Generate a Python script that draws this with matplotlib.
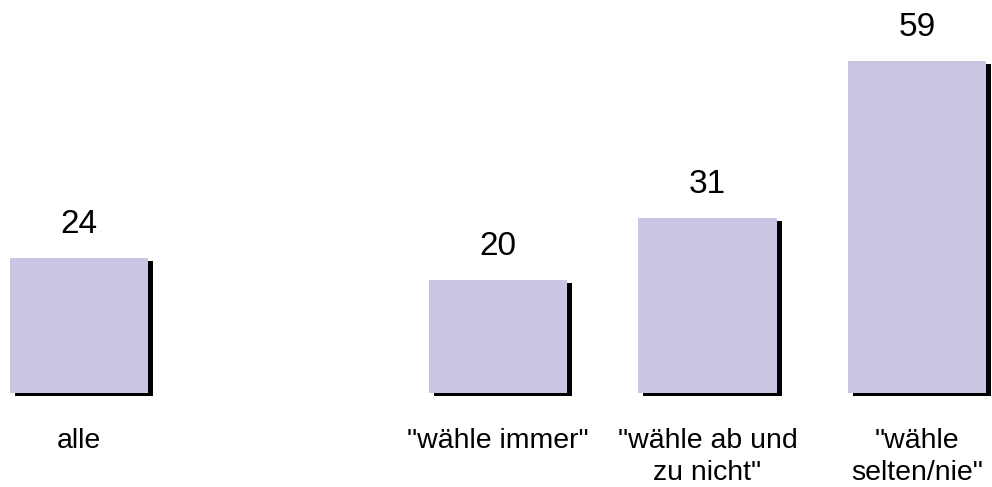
import matplotlib.pyplot as plt
import matplotlib.patheffects as pe

categories = ['alle', '"wähle immer"', '"wähle ab und\nzu nicht"', '"wähle\nselten/nie"']
positions = [0, 2, 3, 4]
values = [24, 20, 31, 59]

plt.rcParams['font.family'] = ['Liberation Sans', 'DejaVu Sans']

fig = plt.figure(figsize=(9.92, 4.87), dpi=100)
ax = fig.add_axes([0, 0, 1, 1])

shadow = [pe.SimplePatchShadow(offset=(3.6, -2.0), shadow_rgbFace='black', alpha=1.0), pe.Normal()]
bars = ax.bar(positions, values, width=0.66, color='#c8c6e2', linewidth=0)
for b in bars:
    b.set_path_effects(shadow)

for x, v in zip(positions, values):
    ax.annotate(str(v), (x, v), xytext=(0, 18), textcoords='offset points',
                ha='center', va='baseline', fontsize=24)

for x, lab in zip(positions, categories):
    ax.annotate(lab, (x, 0), xytext=(0, -25), textcoords='offset points',
                ha='center', va='top', fontsize=20.5, linespacing=1.3)

ax.set_xlim(-0.377, 4.358)
ax.set_ylim(-16.7, 69.8)
ax.axis('off')

fig.savefig('out.png', dpi=100)
